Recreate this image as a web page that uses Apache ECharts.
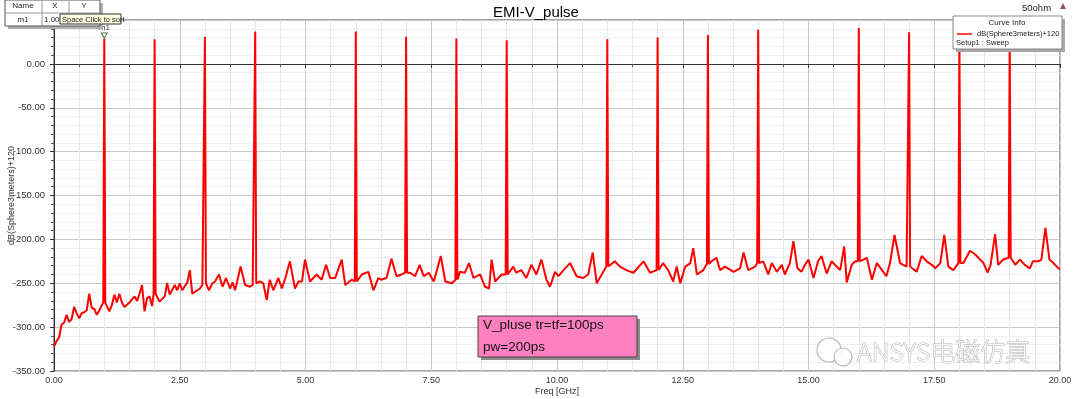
<!DOCTYPE html>
<html>
<head>
<meta charset="utf-8">
<script src="https://cdn.jsdelivr.net/npm/echarts@6/dist/echarts.min.js"></script>
<style>
  html, body { margin: 0; padding: 0; background: #fff; }
  #emi { width: 1080px; height: 399px; }
</style>
</head>
<body>
<div id="emi"></div>
<script>
// noise floor of the trace, [GHz, dB]
const floorTrace = [
  [0.00, -322], [0.05, -316], [0.10, -312], [0.15, -297], [0.20, -295], [0.25, -286], [0.30, -294], [0.35, -291],
  [0.40, -277], [0.45, -284], [0.50, -290], [0.55, -284], [0.60, -283], [0.65, -281], [0.70, -262], [0.75, -278],
  [0.80, -279], [0.85, -286], [0.90, -281], [0.95, -275], [1.05, -270], [1.10, -282], [1.15, -275], [1.20, -263],
  [1.25, -272], [1.30, -262], [1.35, -272], [1.40, -277], [1.50, -272], [1.60, -265], [1.65, -270], [1.70, -262],
  [1.75, -252], [1.80, -282], [1.85, -267], [1.90, -265], [1.95, -276], [2.05, -262], [2.10, -271], [2.20, -265],
  [2.25, -250], [2.30, -263], [2.40, -252], [2.45, -258], [2.50, -250], [2.55, -258], [2.65, -249], [2.70, -235],
  [2.75, -262], [2.85, -258], [2.90, -256], [2.95, -252], [3.08, -258], [3.15, -250], [3.20, -248], [3.28, -240],
  [3.35, -254], [3.42, -244], [3.50, -256], [3.55, -249], [3.60, -258], [3.71, -231], [3.80, -252], [3.90, -254],
  [3.95, -252], [4.09, -248], [4.16, -250], [4.23, -269], [4.29, -246], [4.36, -258], [4.46, -244], [4.53, -256],
  [4.60, -244], [4.69, -225], [4.79, -256], [4.86, -248], [4.93, -248], [4.99, -223], [5.09, -248], [5.22, -240],
  [5.32, -246], [5.41, -229], [5.49, -244], [5.59, -244], [5.72, -223], [5.79, -252], [5.92, -246], [6.12, -240],
  [6.25, -237], [6.35, -258], [6.45, -244], [6.50, -246], [6.61, -244], [6.71, -222], [6.81, -242], [6.91, -240],
  [7.08, -238], [7.18, -242], [7.27, -229], [7.35, -242], [7.45, -238], [7.55, -248], [7.69, -219], [7.78, -248],
  [7.91, -250], [8.07, -237], [8.17, -238], [8.25, -227], [8.34, -244], [8.47, -240], [8.57, -254], [8.65, -256],
  [8.70, -223], [8.77, -248], [8.90, -240], [9.13, -231], [9.19, -238], [9.29, -235], [9.39, -244], [9.49, -229],
  [9.59, -240], [9.69, -223], [9.79, -246], [9.86, -254], [9.96, -237], [10.03, -242], [10.13, -235], [10.26, -227],
  [10.39, -242], [10.52, -244], [10.62, -240], [10.71, -215], [10.79, -250], [10.92, -237], [11.15, -225], [11.25, -231],
  [11.38, -235], [11.52, -238], [11.72, -225], [11.85, -238], [12.11, -227], [12.21, -235], [12.31, -248], [12.38, -231],
  [12.45, -250], [12.55, -231], [12.65, -227], [12.71, -210], [12.78, -240], [12.91, -235], [13.07, -225], [13.17, -221],
  [13.24, -235], [13.34, -231], [13.51, -237], [13.64, -233], [13.71, -215], [13.80, -235], [13.94, -231], [14.10, -225],
  [14.20, -240], [14.27, -227], [14.37, -237], [14.47, -229], [14.53, -240], [14.63, -227], [14.70, -202], [14.78, -233],
  [14.86, -237], [14.93, -229], [15.00, -223], [15.10, -244], [15.19, -225], [15.26, -219], [15.36, -239], [15.46, -225],
  [15.56, -231], [15.63, -235], [15.71, -208], [15.76, -249], [15.86, -229], [15.93, -225], [16.09, -223], [16.16, -221],
  [16.26, -246], [16.36, -227], [16.46, -235], [16.55, -242], [16.62, -227], [16.71, -195], [16.82, -227], [16.95, -231],
  [17.15, -237], [17.25, -219], [17.35, -225], [17.45, -229], [17.52, -233], [17.62, -227], [17.70, -195], [17.78, -231],
  [17.88, -235], [17.91, -237], [18.08, -227], [18.21, -213], [18.31, -217], [18.41, -223], [18.48, -227], [18.56, -238],
  [18.62, -229], [18.71, -194], [18.77, -229], [18.87, -223], [19.11, -229], [19.20, -223], [19.30, -229], [19.40, -233],
  [19.46, -225], [19.57, -225], [19.63, -223], [19.71, -187], [19.79, -223], [19.87, -227], [19.97, -233], [20.00, -234]
]

// harmonics of the 1 ns pulse train (5/10/15 GHz are nulls)
const harmonicGHz = [1, 2, 3, 4, 6, 7, 8, 9, 11, 12, 13, 14, 16, 17, 18, 19]
const harmonicDb = [29, 28, 31, 37, 37, 31, 29, 27, 28, 30, 33, 39, 41, 36, 34, 35]
const harmonicBaseDb = [-272, -262, -250, -250, -248, -238, -246, -240, -231, -235, -228, -227, -225, -231, -227, -221]

const xTicks = { min: 0, max: 20, step: 2.5 }
const yTicks = { min: -350, max: 50, step: 50 }

const FONT = 'Liberation Sans, Arial, sans-serif'
const halfWidth = 0.02 // spike half width in GHz

const trace = floorTrace.slice()
harmonicGHz.forEach((f, i) => {
  trace.push([f - halfWidth, harmonicBaseDb[i]])
  trace.push([f, harmonicDb[i]])
  trace.push([f + halfWidth, harmonicBaseDb[i]])
})
trace.sort((a, b) => a[0] - b[0])

const myChart = echarts.init(document.getElementById('emi'))
myChart.setOption({
  animation: false,
  backgroundColor: '#fff',
  title: {
    text: 'EMI-V_pulse',
    left: 531,
    top: 0,
    textAlign: 'center',
    textStyle: { fontFamily: FONT, fontSize: 15, fontWeight: 'normal', color: '#000' }
  },
  grid: {
    left: 54,
    right: 20,
    top: 20,
    bottom: 28,
    outerBoundsMode: 'none',
    containLabel: false,
    show: true,
    borderColor: '#444',
    borderWidth: 1,
    backgroundColor: '#fff'
  },
  xAxis: {
    type: 'value',
    min: xTicks.min,
    max: xTicks.max,
    interval: xTicks.step,
    name: 'Freq [GHz]',
    nameLocation: 'middle',
    nameGap: 16,
    nameMoveOverlap: false,
    nameTextStyle: { fontFamily: FONT, fontSize: 9, color: '#333' },
    axisLine: { lineStyle: { color: '#333' } },
    axisTick: { length: 4, lineStyle: { color: '#333' } },
    minorTick: { show: true, splitNumber: 5, length: 3, lineStyle: { color: '#555' } },
    axisLabel: {
      margin: 5,
      fontFamily: FONT,
      fontSize: 9,
      color: '#333',
      formatter: v => v.toFixed(2)
    },
    splitLine: { lineStyle: { color: '#c8c8c8' } },
    minorSplitLine: { show: true, lineStyle: { color: '#e8e8e8' } }
  },
  yAxis: {
    type: 'value',
    min: yTicks.min,
    max: yTicks.max,
    interval: yTicks.step,
    name: 'dB(Sphere3meters)+120',
    nameLocation: 'middle',
    nameGap: 38,
    nameMoveOverlap: false,
    nameTextStyle: { fontFamily: FONT, fontSize: 9, color: '#333' },
    axisLine: { show: true, lineStyle: { color: '#333' } },
    axisTick: { show: true, length: 4, lineStyle: { color: '#333' } },
    minorTick: { show: true, splitNumber: 5, length: 3, lineStyle: { color: '#555' } },
    axisLabel: {
      margin: 9,
      fontFamily: FONT,
      fontSize: 9.5,
      color: '#333',
      formatter: v => (v === yTicks.max ? '' : v.toFixed(2))
    },
    splitLine: { lineStyle: { color: '#c8c8c8' } },
    minorSplitLine: { show: true, lineStyle: { color: '#f0f0f0' } }
  },
  series: [
    {
      name: 'dB(Sphere3meters)+120',
      type: 'line',
      data: trace,
      showSymbol: false,
      symbol: 'none',
      lineStyle: { color: '#ff0000', width: 2 },
      z: 2,
      markPoint: {
        symbol: 'triangle',
        symbolRotate: 180,
        symbolSize: [6, 5],
        symbolOffset: [0, -3],
        itemStyle: { color: '#fff', borderColor: '#4a7a5a', borderWidth: 1 },
        label: {
          show: true,
          position: 'top',
          distance: 1,
          formatter: 'm1',
          fontFamily: FONT,
          fontSize: 8,
          color: '#333'
        },
        data: [{ coord: [harmonicGHz[0], harmonicDb[0]] }]
      }
    }
  ],
  graphic: [
    // marker table, top left
    { type: 'rect', z: 10, shape: { x: 8, y: 3, width: 95, height: 26 }, style: { fill: '#b0b0b0' } },
    { type: 'rect', z: 11, shape: { x: 5, y: 0, width: 95, height: 26 }, style: { fill: '#fff', stroke: '#555', lineWidth: 1 } },
    { type: 'line', z: 12, shape: { x1: 5, y1: 13, x2: 100, y2: 13 }, style: { stroke: '#999' } },
    { type: 'line', z: 12, shape: { x1: 42, y1: 0, x2: 42, y2: 26 }, style: { stroke: '#999' } },
    { type: 'line', z: 12, shape: { x1: 69, y1: 0, x2: 69, y2: 13 }, style: { stroke: '#999' } },
    { type: 'text', z: 12, style: { text: 'Name', x: 23, y: 2, align: 'center', font: '8px ' + FONT, fill: '#222' } },
    { type: 'text', z: 12, style: { text: 'X', x: 55, y: 2, align: 'center', font: '8px ' + FONT, fill: '#222' } },
    { type: 'text', z: 12, style: { text: 'Y', x: 84, y: 2, align: 'center', font: '8px ' + FONT, fill: '#222' } },
    { type: 'text', z: 12, style: { text: 'm1', x: 23, y: 16, align: 'center', font: '8px ' + FONT, fill: '#222' } },
    { type: 'text', z: 12, style: { text: '1.00', x: 44, y: 16, font: '8px ' + FONT, fill: '#222' } },
    { type: 'rect', z: 13, shape: { x: 60, y: 14, width: 61, height: 10 }, style: { fill: '#ffffe1', stroke: '#333', lineWidth: 1 } },
    { type: 'text', z: 14, style: { text: 'Space Click to sort', x: 62, y: 15.5, font: '7.5px ' + FONT, fill: '#222' } },

    // 50ohm, top right
    { type: 'text', z: 10, style: { text: '50ohm', x: 1022, y: 3, font: '9.5px ' + FONT, fill: '#222' } },
    { type: 'polygon', z: 10, shape: { points: [[1060, 9], [1066, 9], [1063, 3]] }, style: { fill: '#a05050' } },

    // curve info box
    { type: 'rect', z: 10, shape: { x: 956, y: 19, width: 109, height: 33 }, style: { fill: '#a8a8a8' } },
    { type: 'rect', z: 11, shape: { x: 953, y: 16, width: 109, height: 33 }, style: { fill: '#fff', stroke: '#888', lineWidth: 1 } },
    { type: 'text', z: 12, style: { text: 'Curve Info', x: 1007, y: 19, align: 'center', font: '8px ' + FONT, fill: '#222' } },
    { type: 'line', z: 12, shape: { x1: 957, y1: 34, x2: 972, y2: 34 }, style: { stroke: '#ff0000', lineWidth: 1.5 } },
    { type: 'text', z: 12, style: { text: 'dB(Sphere3meters)+120', x: 977, y: 30, font: '7.5px ' + FONT, fill: '#222' } },
    { type: 'text', z: 12, style: { text: 'Setup1 : Sweep', x: 956, y: 39, font: '7.5px ' + FONT, fill: '#222' } },

    // pulse annotation
    { type: 'rect', z: 10, shape: { x: 481, y: 319, width: 159, height: 41 }, style: { fill: '#8c8c8c' } },
    { type: 'rect', z: 11, shape: { x: 478, y: 316, width: 159, height: 41 }, style: { fill: '#ff80c0', stroke: '#444', lineWidth: 1 } },
    { type: 'text', z: 12, style: { text: 'V_pluse tr=tf=100ps', x: 483, y: 318, font: '13.5px ' + FONT, fill: '#111' } },
    { type: 'text', z: 12, style: { text: 'pw=200ps', x: 483, y: 340, font: '13.5px ' + FONT, fill: '#111' } },

    // watermark
    { type: 'circle', z: 15, shape: { cx: 829, cy: 350, r: 12 }, style: { fill: 'rgba(255,255,255,0.85)', stroke: '#b8b8b8', lineWidth: 1.2 } },
    { type: 'circle', z: 16, shape: { cx: 843, cy: 357, r: 9 }, style: { fill: 'rgba(255,255,255,0.85)', stroke: '#b8b8b8', lineWidth: 1.2 } },
    {
      type: 'text',
      z: 15,
      style: {
        text: 'ANSYS电磁仿真',
        x: 857,
        y: 339,
        font: '300 25px "Noto Sans CJK SC", "Noto Sans", sans-serif',
        fill: 'rgba(255,255,255,0.9)',
        stroke: '#b4b4b4',
        lineWidth: 1
      }
    }
  ]
})
</script>
</body>
</html>
